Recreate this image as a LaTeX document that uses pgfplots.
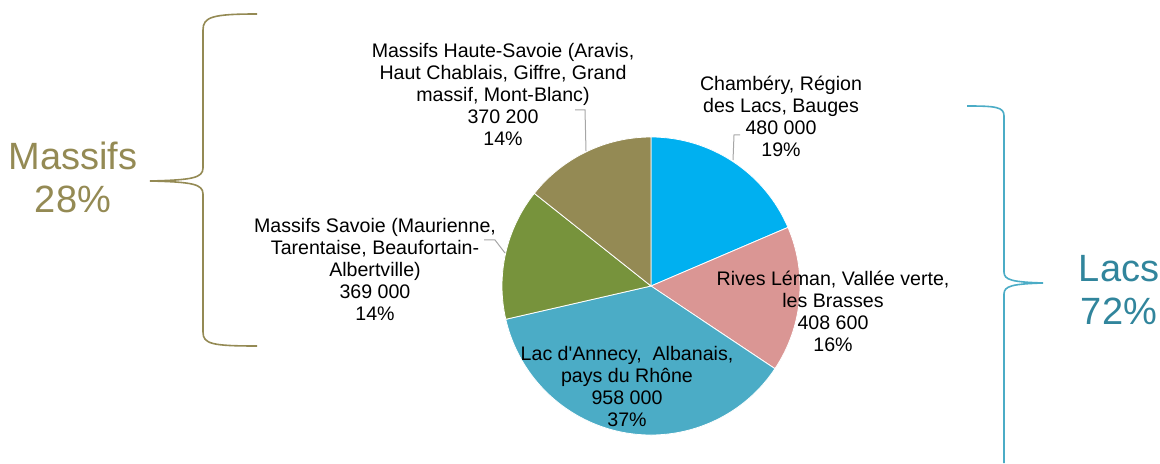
\documentclass[border=0pt]{standalone}
\usepackage{pgfplots}
\usepackage{pgfplotstable}
\pgfplotsset{compat=1.18}
\usepackage{fontspec}
\setmainfont{Liberation Sans}
\definecolor{cA}{HTML}{00B0F0}
\definecolor{cB}{HTML}{DA9694}
\definecolor{cC}{HTML}{4BACC6}
\definecolor{cD}{HTML}{77933C}
\definecolor{cE}{HTML}{948A54}
\definecolor{lacs}{HTML}{31859C}
\definecolor{lacsb}{HTML}{4BACC6}
\definecolor{lead}{HTML}{A6A6A6}
% values in thousands
\pgfplotstableread{
v
480.0
408.6
958.0
369.0
370.2
}\pietable
\newcommand\getv[2]{\pgfplotstablegetelem{#1}{v}\of\pietable\global\let#2\pgfplotsretval}
\newcommand\lblfont{\fontsize{9.8}{11}\selectfont}
\newcommand\bigfont{\fontsize{19}{21.5}\selectfont}
\begin{document}
\begin{tikzpicture}
\getv{0}\vA \getv{1}\vB \getv{2}\vC \getv{3}\vD \getv{4}\vE
\pgfmathsetmacro\tot{\vA+\vB+\vC+\vD+\vE}
\pgfmathsetmacro\aA{90}
\pgfmathsetmacro\aB{\aA-(\vA/\tot)*360}
\pgfmathsetmacro\aC{\aB-(\vB/\tot)*360}
\pgfmathsetmacro\aD{\aC-(\vC/\tot)*360}
\pgfmathsetmacro\aE{\aD-(\vD/\tot)*360}
\pgfmathsetmacro\aF{\aE-(\vE/\tot)*360}
\def\R{74.5pt}
\begin{axis}[
  x=0.5pt, y=0.5pt, y dir=reverse,
  xmin=0, xmax=1160, ymin=0, ymax=464,
  hide axis, clip=false, scale only axis,
]
\path[draw=none] (axis cs:0,0) rectangle (axis cs:1160,464);
\fill[cA, draw=white, line width=0.4pt] (axis cs:651,286) -- ++(\aA:\R) arc[start angle=\aA, end angle=\aB, radius=\R] -- cycle;
\fill[cB, draw=white, line width=0.4pt] (axis cs:651,286) -- ++(\aB:\R) arc[start angle=\aB, end angle=\aC, radius=\R] -- cycle;
\fill[cC, draw=white, line width=0.4pt] (axis cs:651,286) -- ++(\aC:\R) arc[start angle=\aC, end angle=\aD, radius=\R] -- cycle;
\fill[cD, draw=white, line width=0.4pt] (axis cs:651,286) -- ++(\aD:\R) arc[start angle=\aD, end angle=\aE, radius=\R] -- cycle;
\fill[cE, draw=white, line width=0.4pt] (axis cs:651,286) -- ++(\aE:\R) arc[start angle=\aE, end angle=\aF, radius=\R] -- cycle;
% leader lines
\draw[lead, line width=0.5pt] (axis cs:740,135) -- (axis cs:734,135) -- (axis cs:733,160);
\draw[lead, line width=0.5pt] (axis cs:575,110) -- (axis cs:585,110) -- (axis cs:586,151);
\draw[lead, line width=0.5pt] (axis cs:484,240) -- (axis cs:495,240) -- (axis cs:505,253);
% labels
\node[align=center, font=\lblfont, inner sep=0pt] at (axis cs:781,116) {Chambéry, Région\\des Lacs, Bauges\\480 000\\19\%};
\node[align=center, font=\lblfont, inner sep=0pt] at (axis cs:833,311) {Rives Léman, Vallée verte,\\les Brasses\\408 600\\16\%};
\node[align=center, font=\lblfont, inner sep=0pt] at (axis cs:627,386) {Lac d\textquotesingle Annecy,~ Albanais,\\pays du Rhône\\958 000\\37\%};
\node[align=center, font=\lblfont, inner sep=0pt] at (axis cs:375,269) {Massifs Savoie (Maurienne,\\Tarentaise, Beaufortain-\\Albertville)\\369 000\\14\%};
\node[align=center, font=\lblfont, inner sep=0pt] at (axis cs:503,94) {Massifs Haute-Savoie (Aravis,\\Haut Chablais, Giffre, Grand\\massif, Mont-Blanc)\\370 200\\14\%};
% braces
\draw[cE, line width=0.8pt] (axis cs:257,14) .. controls (axis cs:212,14) and (axis cs:203,17) .. (axis cs:203,30) -- (axis cs:203,168) .. controls (axis cs:203,178) and (axis cs:192,180) .. (axis cs:150,181) .. controls (axis cs:192,182) and (axis cs:203,184) .. (axis cs:203,194) -- (axis cs:203,332) .. controls (axis cs:203,344) and (axis cs:212,346) .. (axis cs:257,346);
\draw[lacsb, line width=0.8pt] (axis cs:967,106) .. controls (axis cs:996,106) and (axis cs:1004,107) .. (axis cs:1004,116) -- (axis cs:1004,272) .. controls (axis cs:1004,280) and (axis cs:1012,282) .. (axis cs:1043,283) .. controls (axis cs:1012,284) and (axis cs:1004,286) .. (axis cs:1004,294) -- (axis cs:1004,463);
\node[align=center, font=\bigfont, text=cE, inner sep=0pt] at (axis cs:73,177) {Massifs\\28\%};
\node[align=center, font=\bigfont, text=lacs, inner sep=0pt] at (axis cs:1119,290) {Lacs\\72\%};
\end{axis}
\end{tikzpicture}
\end{document}
